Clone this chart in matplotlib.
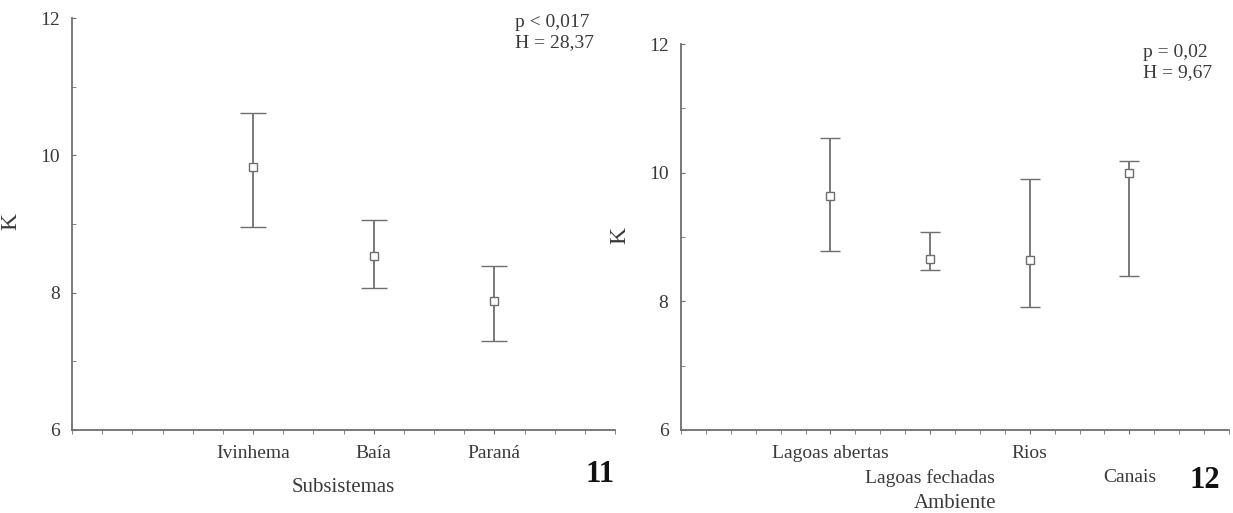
import matplotlib
matplotlib.use('Agg')
import matplotlib.pyplot as plt
from matplotlib.ticker import MultipleLocator
import numpy as np

# figure 11 - subsistemas
sub_names = ['Ivinhema', 'Baía', 'Paraná']
sub_mean = [9.83, 8.53, 7.88]
sub_low = [8.95, 8.07, 7.29]
sub_high = [10.61, 9.06, 8.39]

# figure 12 - ambiente
amb_names = ['Lagoas abertas', 'Lagoas fechadas', 'Rios', 'Canais']
amb_mean = [9.63, 8.66, 8.65, 9.99]
amb_low = [8.79, 8.49, 7.91, 8.40]
amb_high = [10.54, 9.08, 9.90, 10.18]

plt.rcParams['font.family'] = ['Liberation Serif', 'DejaVu Serif']
txtc = '#3a3a3a'
linec = '#6e6e6e'

fig = plt.figure(figsize=(12.33, 5.13), dpi=100)
ax1 = fig.add_axes([0.0584, 0.1618, 0.4404, 0.803])
ax2 = fig.add_axes([0.5523, 0.1618, 0.4445, 0.7524])


def draw(ax, names, mean, low, high, xlim, cap, stagger=False):
    x = np.arange(len(names))
    mean = np.array(mean)
    err = [mean - np.array(low), np.array(high) - mean]
    ax.errorbar(x, mean, yerr=err, fmt='s', color=linec, mfc='white', mec=linec,
                ms=5.5, mew=1.0, elinewidth=1.3, capsize=cap, capthick=1.3)
    ax.set_xlim(*xlim)
    ax.set_ylim(6, 12)
    ax.yaxis.set_major_locator(MultipleLocator(2))
    ax.yaxis.set_minor_locator(MultipleLocator(1))
    ax.xaxis.set_minor_locator(MultipleLocator(0.25))
    ax.set_xticks(x)
    ax.set_xticklabels(names)
    for s in ['top', 'right']:
        ax.spines[s].set_visible(False)
    for s in ['left', 'bottom']:
        ax.spines[s].set_color(linec)
        ax.spines[s].set_linewidth(1.3)
    ax.tick_params(axis='both', which='both', colors=linec, labelcolor=txtc,
                   labelsize=14)
    ax.tick_params(axis='x', which='both', length=3, pad=8, direction='out')
    ax.tick_params(axis='y', which='both', length=3, pad=9, direction='in')
    if stagger:
        # every second label goes on a lower row
        for i, t in enumerate(ax.xaxis.get_major_ticks()):
            if i % 2 == 1:
                t.set_pad(25)
    ax.set_ylabel('K', fontsize=17, color=txtc)
    ax.yaxis.set_label_coords(-0.093, 0.505)


draw(ax1, sub_names, sub_mean, sub_low, sub_high, (-1.5, 3.0), 9.4)
draw(ax2, amb_names, amb_mean, amb_low, amb_high, (-1.5, 4.0), 6.9, stagger=True)

ax1.set_xlabel('Subsistemas', fontsize=15, color=txtc, labelpad=11)
ax2.set_xlabel('Ambiente', fontsize=15, color=txtc, labelpad=5)

fig.text(515 / 1233, 1 - 14 / 513, 'p < 0,017\nH = 28,37', fontsize=14, color=txtc,
         va='top', ha='left', linespacing=1.25)
fig.text(1143 / 1233, 1 - 44 / 513, 'p = 0,02\nH = 9,67', fontsize=14, color=txtc,
         va='top', ha='left', linespacing=1.25)

fig.text(615 / 1233, 1 - 474 / 513, '11', fontsize=22, fontweight='bold', color='#111111',
         ha='right', va='center')
fig.text(1220 / 1233, 1 - 481 / 513, '12', fontsize=22, fontweight='bold', color='#111111',
         ha='right', va='center')

fig.savefig('out.png', dpi=100, facecolor='white')
